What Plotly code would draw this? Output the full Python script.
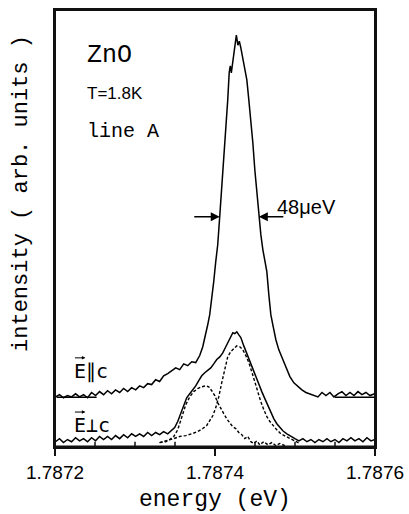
import numpy as np
import plotly.graph_objects as go

E0 = 1.7872  # eV, left edge of the energy window

# E || c spectrum: energy offset from E0 in micro-eV, intensity (arb. units)
par_ueV = [0.6, 5.6, 10.6, 15.6, 20.7, 25.7, 30.7, 35.7, 40.7, 45.7, 50.7, 55.7,
           60.7, 65.7, 70.7, 75.7, 80.8, 85.8, 90.8, 95.8, 100.8, 105.8, 110.8,
           115.8, 120.8, 125.8, 130.8, 135.8, 140.9, 145.9, 150.9, 155.9, 160.9,
           165.9, 170.9, 175.9, 180.9, 184.7, 188.4, 190.9, 193.4, 195.9, 198.4,
           200.9, 203.4, 205.9, 208.4, 210.9, 213.4, 215.9, 217.8, 219.1, 220.4,
           222.3, 224.8, 226.7, 228.6, 230.4, 232.3, 234.8, 237.3, 239.8, 242.3,
           244.8, 247.3, 249.8, 252.3, 254.8, 257.3, 259.8, 262.3, 264.8, 267.3,
           269.8, 272.3, 276.1, 279.8, 284.8, 289.8, 293.6, 298.6, 303.6, 308.6,
           313.6, 318.6, 323.6, 328.7, 333.7, 338.7, 343.7, 348.7, 353.7, 358.7,
           363.7, 368.7, 373.7, 378.7, 383.7, 388.7, 393.7, 399.4]
par_int = [12.0, 12.5, 11.8, 12.3, 12.0, 12.7, 12.0, 12.5, 11.8, 13.0, 12.3, 13.2,
           12.5, 13.4, 12.7, 13.6, 13.0, 13.9, 13.2, 14.1, 13.6, 14.5, 14.1,
           15.0, 14.8, 15.9, 15.5, 16.8, 17.3, 18.0, 18.6, 18.2, 19.5,
           19.1, 20.0, 19.8, 21.4, 23.4, 26.1, 28.4, 30.7, 34.1, 38.2,
           42.7, 46.6, 53.0, 59.1, 65.9, 72.7, 79.5, 85.9, 87.3, 85.7,
           88.2, 92.0, 94.3, 92.0, 92.9, 91.4, 89.1, 86.8, 84.1, 79.5,
           75.0, 69.8, 63.6, 58.0, 53.0, 48.9, 45.5, 42.7, 40.5, 35.2,
           30.7, 28.4, 25.0, 22.7, 20.5, 18.2, 16.6, 15.2, 14.3, 13.6,
           13.0, 12.7, 12.3, 12.0, 13.0, 12.3, 13.0, 12.0, 12.7, 13.2,
           12.3, 13.0, 12.3, 13.2, 12.5, 13.0, 12.3, 12.7]

# E _|_ c spectrum
perp_ueV = [0.6, 5.6, 10.6, 15.6, 20.7, 25.7, 30.7, 35.7, 40.7, 45.7, 50.7, 55.7,
            60.7, 65.7, 70.7, 75.7, 80.8, 85.8, 90.8, 95.8, 100.8, 105.8, 110.8,
            115.8, 120.8, 125.8, 130.8, 135.8, 140.9, 145.9, 149.6, 153.4, 157.1,
            160.9, 164.6, 168.4, 172.2, 175.9, 179.7, 183.4, 187.2, 191.0, 194.7,
            198.4, 202.2, 206.0, 209.7, 213.5, 217.2, 219.7, 222.3, 224.8, 227.3,
            229.8, 232.3, 236.0, 239.8, 243.5, 247.3, 251.0, 254.8, 258.5, 262.3,
            266.1, 269.8, 273.6, 277.3, 281.1, 284.8, 289.8, 294.8, 299.9, 304.9,
            309.9, 314.9, 319.9, 324.9, 329.9, 334.9, 339.9, 344.9, 349.9, 354.9,
            359.9, 364.9, 369.9, 374.9, 379.9, 384.9, 389.9, 395.0, 400.0]
perp_int = [1.8, 2.5, 1.6, 2.3, 1.8, 2.7, 2.0, 2.5, 1.8, 2.7, 2.0, 3.0,
            2.3, 3.0, 2.3, 3.2, 2.5, 3.4, 2.7, 3.6, 3.0, 3.6, 3.0,
            3.9, 3.2, 3.9, 3.4, 4.1, 3.6, 4.3, 5.0, 6.4, 8.2,
            10.2, 11.8, 12.7, 13.6, 14.5, 15.7, 16.8, 17.5, 18.0, 18.6,
            19.5, 20.5, 21.1, 22.0, 23.4, 24.8, 25.9, 26.6, 26.4, 26.8,
            26.1, 25.5, 23.6, 21.8, 20.0, 18.2, 16.4, 14.8, 13.2, 11.6,
            10.0, 8.4, 7.0, 5.9, 5.0, 4.3, 3.6, 3.0, 2.5, 2.0,
            2.5, 1.8, 2.3, 1.6, 2.3, 1.8, 2.5, 1.8, 2.3, 1.6,
            2.5, 2.0, 2.7, 2.0, 2.5, 1.8, 2.7, 2.0, 2.3]

# fitted components of the E _|_ c line (dashed)
fit1_ueV = [130.8, 138.3, 143.4, 148.4, 153.4, 158.4, 163.4, 168.4, 173.4, 178.4,
            183.4, 188.4, 192.2, 195.9, 199.7, 203.4, 207.2, 210.9, 214.7, 218.4,
            222.2, 225.9, 229.7, 233.5, 237.2, 241.0, 244.8, 248.5, 252.3, 256.0,
            261.0, 266.1, 271.1, 276.1, 281.1, 287.3]
fit1_int = [1.6, 1.8, 2.3, 3.0, 4.5, 7.3, 10.2, 12.0, 13.2, 13.9,
            14.3, 14.5, 14.3, 13.4, 12.3, 10.7, 9.3, 8.2, 7.0, 6.1,
            5.2, 4.8, 3.9, 3.4, 2.5, 3.0, 1.8, 1.4, 2.0, 1.1,
            1.8, 1.1, 1.6, 0.9, 1.4, 0.9]

fit2_ueV = [130.8, 139.6, 148.4, 155.9, 163.4, 170.9, 178.4, 184.7, 189.7, 193.4,
            197.2, 200.9, 204.7, 208.4, 212.2, 215.9, 219.7, 223.5, 227.2, 231.0,
            234.8, 238.5, 242.3, 246.0, 249.8, 253.5, 257.3, 261.0, 264.8, 268.6,
            272.3, 277.3, 282.3, 288.6, 294.8, 301.1, 306.1]
fit2_int = [1.6, 2.0, 2.5, 3.0, 3.2, 3.6, 4.1, 4.8, 5.5, 6.6,
            7.7, 9.5, 12.0, 15.2, 18.4, 21.1, 22.3, 23.0, 23.6, 23.4,
            22.7, 21.4, 19.8, 17.7, 15.2, 13.0, 10.9, 9.1, 7.5, 6.4,
            5.5, 4.5, 3.6, 3.0, 2.3, 1.8, 1.4]

# baseline markers of the E || c spectrum
base_level = 11.9
base_left_ueV = [2.0, 52.0]
base_right_ueV = [350.0, 400.0]

# half-maximum markers (48 ueV)
fwhm_level = 53.0
fwhm_ueV = [205.9, 254.8]
fwhm_tail_ueV = [172.2, 287.3]

# axes
x_range = [1.7872, 1.7876]
y_range = [0.6, 100.0]
major_ticks = [1.7872, 1.7874, 1.7876]
major_labels = ["1.7872", "1.7874", "1.7876"]
minor_ticks = [1.78725, 1.7873, 1.78735, 1.78745, 1.7875, 1.78755]

ink = "#111111"


def ev(offsets):
    return E0 + np.array(offsets) / 1e6


fig = go.Figure()
line = dict(color="black", width=1.5)
fig.add_trace(go.Scatter(x=ev(par_ueV), y=par_int, mode="lines", line=line))
fig.add_trace(go.Scatter(x=ev(perp_ueV), y=perp_int, mode="lines", line=line))
dashed = dict(color="black", width=1.4, dash="3px,2px")
fig.add_trace(go.Scatter(x=ev(fit1_ueV), y=fit1_int, mode="lines", line=dashed))
fig.add_trace(go.Scatter(x=ev(fit2_ueV), y=fit2_int, mode="lines", line=dashed))
for seg in (base_left_ueV, base_right_ueV):
    fig.add_trace(go.Scatter(x=ev(seg), y=[base_level, base_level], mode="lines",
                             line=dict(color="black", width=1.5)))

# box and heavier energy axis, minor ticks pointing into the plot
fig.add_shape(type="rect", xref="paper", yref="paper", x0=0, x1=1, y0=0, y1=1,
              line=dict(color=ink, width=2))
fig.add_shape(type="line", xref="paper", yref="paper", x0=0, x1=1, y0=0, y1=0,
              line=dict(color=ink, width=3))
for tv in minor_ticks:
    fig.add_shape(type="line", xref="x", yref="paper", x0=tv, x1=tv, y0=0, y1=0.012,
                  line=dict(color=ink, width=1.5))

# FWHM arrows
for head, tail in zip(fwhm_ueV, fwhm_tail_ueV):
    fig.add_annotation(x=float(ev([head])[0]), y=fwhm_level,
                       ax=float(ev([tail])[0]), ay=fwhm_level,
                       xref="x", yref="y", axref="x", ayref="y", text="",
                       showarrow=True, arrowhead=2, arrowsize=1.2, arrowwidth=1.5,
                       arrowcolor="black")

mono = "Liberation Mono"
sans = "Liberation Sans"
texts = [
    ("ZnO", 0.095, 0.895, mono, 25),
    ("T=1.8K", 0.095, 0.808, sans, 17),
    ("line A", 0.095, 0.723, mono, 20),
    ("48μeV", 0.687, 0.549, sans, 20),
    ("E\u2225c", 0.052, 0.174, "DejaVu Sans Mono", 20),
    ("E\u22a5c", 0.052, 0.050, "DejaVu Sans Mono", 20),
]
for txt, xp, yp, fam, size in texts:
    fig.add_annotation(x=xp, y=yp, xref="paper", yref="paper", text=txt,
                       showarrow=False, xanchor="left", yanchor="middle",
                       font=dict(family=fam, size=size, color="black"))

# vector arrows over the E of the polarisation labels
for yp in (0.204, 0.080):
    fig.add_annotation(x=0.095, y=yp, xref="paper", yref="paper", text="",
                       ax=-12, ay=0, showarrow=True, arrowhead=2, arrowsize=0.7,
                       arrowwidth=1, arrowcolor="black")

fig.add_annotation(x=0.5, y=-0.122, xref="paper", yref="paper", text="energy (eV)",
                   showarrow=False, xanchor="center", yanchor="middle",
                   font=dict(family=mono, size=23, color="black"))
fig.add_annotation(x=-0.105, y=0.58, xref="paper", yref="paper",
                   text="intensity ( arb. units )", textangle=-90,
                   showarrow=False, xanchor="center", yanchor="middle",
                   font=dict(family=mono, size=22, color="black"))

fig.update_layout(
    width=409,
    height=514,
    margin=dict(l=55, r=34, t=10, b=67),
    showlegend=False,
    plot_bgcolor="white",
    paper_bgcolor="white",
    xaxis=dict(
        range=x_range,
        tickvals=major_ticks,
        ticktext=major_labels,
        ticks="outside",
        ticklen=7,
        tickwidth=1.5,
        tickcolor=ink,
        showline=True,
        linewidth=2,
        linecolor=ink,
        mirror=True,
        showgrid=False,
        zeroline=False,
        automargin=False,
        tickfont=dict(family=sans, size=19, color="black"),
    ),
    yaxis=dict(
        range=y_range,
        showticklabels=False,
        ticks="",
        showline=True,
        linewidth=2,
        linecolor=ink,
        mirror=True,
        showgrid=False,
        zeroline=False,
        automargin=False,
    ),
)

fig.write_html("out.html", config={"displayModeBar": False},
               post_script="document.body.style.margin='0';")
